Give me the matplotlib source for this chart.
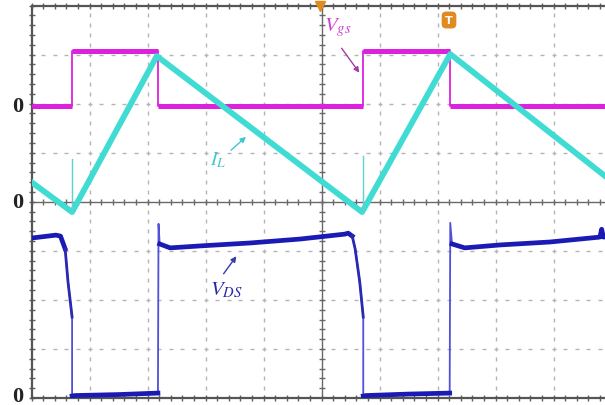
import numpy as np
import matplotlib
matplotlib.use("Agg")
import matplotlib.pyplot as plt

# ---- data (time and amplitude in oscilloscope divisions) ----
vgs_t = [0.00, 0.70, 0.70, 2.18, 2.18, 5.72, 5.72, 7.22, 7.22, 10.0]
vgs_v = [0.00, 0.00, 1.12, 1.12, 0.00, 0.00, 1.12, 1.12, 0.00, 0.00]

il_t = [0.00, 0.70, 2.16, 5.70, 7.22, 10.0]
il_v = [0.41, -0.20, 2.98, -0.20, 3.02, 0.43]
il_spike_t = [0.70, 5.72]
il_spike_v = [0.88, 0.94]

vds_t = [0.00, 0.42, 0.50, 0.58, 0.63, 0.70, 0.70, 0.75, 1.50, 2.18,
         2.19, 2.21, 2.39, 2.91, 3.77, 4.63, 5.40, 5.46, 5.53, 5.58,
         5.66, 5.72, 5.72, 5.77, 6.50, 7.21, 7.22, 7.25, 7.47, 8.08,
         8.94, 9.80, 9.83, 9.86, 10.0]
vds_v = [3.26, 3.32, 3.30, 3.04, 2.36, 1.65, 0.04, 0.05, 0.07, 0.10,
         3.55, 3.14, 3.06, 3.10, 3.16, 3.24, 3.34, 3.36, 3.30, 3.04,
         2.36, 1.65, 0.04, 0.05, 0.08, 0.10, 3.57, 3.14, 3.06, 3.12,
         3.18, 3.28, 3.44, 3.28, 3.30]

# trace zero levels (divisions from bottom)
vgs_zero = 5.95
il_zero = 3.99
vds_zero = 0.0

zero_labels = ["0", "0", "0"]

# ---- figure ----
W, H = 605, 406
fig = plt.figure(figsize=(W / 100, H / 100), dpi=100)
fig.patch.set_facecolor("white")
px_div_x = 58.0
px_div_y = 49.06
left_px, bottom_px = 31.5, 399.0
ax = fig.add_axes([left_px / W, (H - bottom_px) / H,
                   10 * px_div_x / W, 8 * px_div_y / H])
ax.set_xlim(0, 10)
ax.set_ylim(0, 8)
ax.set_facecolor("white")

# grid (dotted, 5 dots per division)
gx = np.arange(0, 10.001, 0.2)
gy = np.arange(0, 8.001, 0.2)
for yy in range(1, 8):
    if yy == 4:
        continue
    ax.plot(gx, np.full_like(gx, yy), ls="none", marker="_", ms=3,
            mew=1.0, color="#b4b4b4", zorder=1)
for xx in range(1, 10):
    if xx == 5:
        continue
    ax.plot(np.full_like(gy, xx), gy, ls="none", marker="|", ms=3,
            mew=1.0, color="#b4b4b4", zorder=1)

# centre crosshair with ticks
ax.axhline(4, color="#686868", lw=1.0, zorder=1)
ax.axvline(5, color="#686868", lw=1.0, zorder=1)
ax.plot(gx, np.full_like(gx, 4), ls="none", marker="|", ms=5,
        mew=1.0, color="#686868", zorder=1)
ax.plot(np.full_like(gy, 5), gy, ls="none", marker="_", ms=5,
        mew=1.0, color="#686868", zorder=1)

# frame
for s in ["left", "top", "bottom"]:
    ax.spines[s].set_color("#555555")
    ax.spines[s].set_linewidth(1.6)
ax.spines["right"].set_visible(False)
ax.set_xticks(np.arange(0, 10.001, 1))
ax.set_xticks(gx, minor=True)
ax.set_yticks(np.arange(0, 8.001, 1))
ax.set_yticks(gy, minor=True)
ax.tick_params(which="both", direction="inout", length=4, width=1.0,
               color="#606060", top=True, bottom=True, left=True,
               right=False, labelbottom=False, labelleft=False)

# ---- traces ----
vgs_y = np.array(vgs_v) + vgs_zero
ax.plot(vgs_t, vgs_y, color="#dd22dd", lw=1.3, zorder=3)
for i in range(len(vgs_t) - 1):
    if vgs_t[i + 1] != vgs_t[i]:
        ax.plot(vgs_t[i:i + 2], vgs_y[i:i + 2], color="#dd22dd", lw=3.6,
                zorder=3, solid_capstyle="butt")

il_y = np.array(il_v) + il_zero
ax.plot(il_t, il_y, color="#40dcd4", lw=4.2, zorder=4, solid_joinstyle="round")
for st, sv in zip(il_spike_t, il_spike_v):
    ax.plot([st, st], [il_zero - 0.15, sv + il_zero], color="#60d0d0",
            lw=1.0, zorder=4)

vds_y = np.array(vds_v) + vds_zero
vds_t_arr = np.array(vds_t)
ax.plot(vds_t_arr, vds_y, color="#5050d8", lw=1.3, zorder=5)
thick = [(0, 4), (6, 10), (11, 19), (22, 26), (27, 35)]
medium = [(3, 6), (18, 22)]
for a, b in thick:
    ax.plot(vds_t_arr[a:b], vds_y[a:b], color="#1a1ab4", lw=3.4, zorder=5,
            solid_joinstyle="round")
for a, b in medium:
    ax.plot(vds_t_arr[a:b], vds_y[a:b], color="#2a2ab0", lw=2.0, zorder=5,
            solid_joinstyle="round")

# ---- annotations ----
def d2x(px):
    return (px - left_px) / px_div_x

def d2y(py):
    return (bottom_px - py) / px_div_y

plt.rcParams["mathtext.fontset"] = "stix"
ax.text(d2x(324), d2y(28), r"$V_{gs}$", color="#d040d0", fontsize=15,
        ha="left", va="center", zorder=6)
ax.annotate("", xy=(d2x(361), d2y(76)), xytext=(d2x(340), d2y(47)),
            arrowprops=dict(arrowstyle="-|>", color="#a040a8", lw=1.0,
                            mutation_scale=8), zorder=6)

ax.text(d2x(210), d2y(160), r"$I_L$", color="#40c8d0", fontsize=14,
        ha="left", va="center", zorder=6)
ax.annotate("", xy=(d2x(248), d2y(136)), xytext=(d2x(229), d2y(153)),
            arrowprops=dict(arrowstyle="-|>", color="#40c8d0", lw=1.0,
                            mutation_scale=8), zorder=6)

ax.text(d2x(210), d2y(290), r"$V_{DS}$", color="#2a2aa8", fontsize=15,
        ha="left", va="center", zorder=6)
ax.annotate("", xy=(d2x(238), d2y(255)), xytext=(d2x(222), d2y(277)),
            arrowprops=dict(arrowstyle="-|>", color="#3a3aa8", lw=1.0,
                            mutation_scale=8), zorder=6)

# zero labels
for lab, zy in zip(zero_labels, [107, 203, 397]):
    fig.text(18 / W, 1 - zy / H, lab, family="Liberation Serif",
             fontweight="bold", fontsize=16, ha="center", va="center",
             color="#222222")

# trigger marker and icon
ax.plot([d2x(320)], [d2y(7)], marker="v", ms=7, color="#e08a20",
        clip_on=False, zorder=7)
ax.text(d2x(449), d2y(21), "T", color="white", fontsize=8, fontweight="bold",
        ha="center", va="center", zorder=7,
        bbox=dict(boxstyle="round,pad=0.25,rounding_size=0.35",
                  fc="#e08a20", ec="#e08a20"))

fig.savefig("out.png", dpi=100, facecolor="white")
